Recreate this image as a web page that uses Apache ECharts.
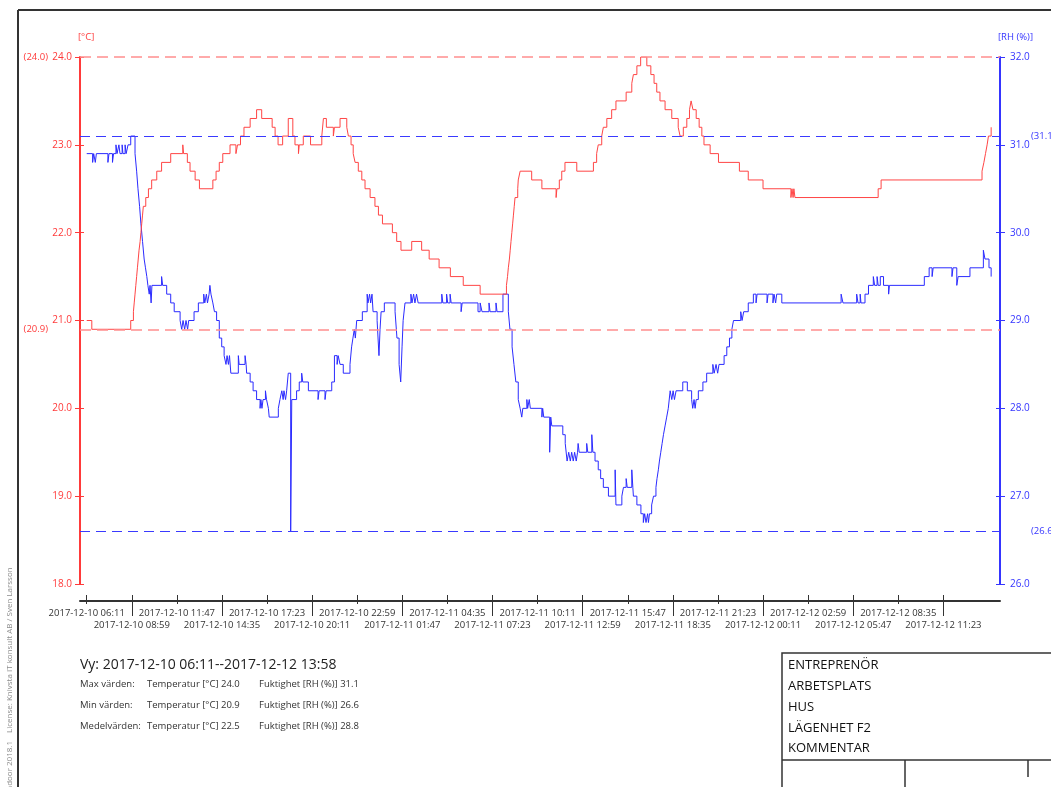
<!DOCTYPE html>
<html lang="sv">

<head>
  <meta charset="utf-8">
  <title>Temperatur och fuktighet</title>
  <style>
    html,
    body {
      margin: 0;
      padding: 0;
      background-color: white;
    }

    .box {
      width: 1051px;
      height: 787px;
    }
  </style>
</head>

<body>
  <script type="text/javascript" src="https://cdn.jsdelivr.net/npm/echarts/dist/echarts.min.js"></script>

  <div class="box"></div>

  <script>
    // tidsintervall
    var START = '2017-12-10 06:11';
    var END = '2017-12-12 13:58';

    // x-axelns etiketter
    var tickLabels = [
      '2017-12-10 06:11', '2017-12-10 08:59', '2017-12-10 11:47', '2017-12-10 14:35', '2017-12-10 17:23',
      '2017-12-10 20:11', '2017-12-10 22:59', '2017-12-11 01:47', '2017-12-11 04:35', '2017-12-11 07:23',
      '2017-12-11 10:11', '2017-12-11 12:59', '2017-12-11 15:47', '2017-12-11 18:35', '2017-12-11 21:23',
      '2017-12-12 00:11', '2017-12-12 02:59', '2017-12-12 05:47', '2017-12-12 08:35', '2017-12-12 11:23'
    ];

    // temperatur [°C]: [minuter från start, värde] (stegvis)
    var tempSteps = [
      [0, 21.0], [19, 20.9], [164, 21.0], [174, 21.1], [177, 21.2], [180, 21.3], [183, 21.4], [186, 21.5], [189, 21.6], [192, 21.7],
      [195, 21.8], [199, 21.9], [202, 22.0], [205, 22.1], [208, 22.2], [211, 22.3], [220, 22.4],
      [230, 22.5], [242, 22.6], [261, 22.7], [279, 22.8], [313, 22.9], [358, 23.0], [361, 22.9], [375, 22.8], [385, 22.7], [404, 22.6],
      [420, 22.5], [470, 22.6], [482, 22.7], [494, 22.8], [507, 22.9], [534, 23.0], [556, 22.9], [562, 23.0], [573, 23.1], [586, 23.2],
      [609, 23.3], [633, 23.4], [652, 23.3], [691, 23.2], [702, 23.1], [713, 23.0], [730, 23.1], [751, 23.3], [768, 23.1], [776, 23.0],
      [789, 22.9], [792, 23.0], [807, 23.1], [834, 23.0], [876, 23.1], [882, 23.3], [893, 23.2], [919, 23.1], [923, 23.2], [944, 23.3],
      [969, 23.2], [975, 23.1], [985, 23.0], [993, 22.9], [1000, 22.8], [1012, 22.7], [1025, 22.6], [1037, 22.5], [1056, 22.4], [1074, 22.3],
      [1087, 22.2], [1102, 22.1], [1139, 22.0], [1155, 21.9], [1171, 21.8], [1211, 21.9], [1248, 21.8], [1276, 21.7], [1313, 21.6], [1355, 21.5],
      [1403, 21.4], [1466, 21.3], [1564, 21.4], [1568, 21.5], [1571, 21.6], [1575, 21.7], [1578, 21.8], [1581, 21.9], [1584, 22.0],
      [1587, 22.1], [1590, 22.2], [1593, 22.3], [1596, 22.4], [1606, 22.5], [1608, 22.6], [1615, 22.7], [1658, 22.6],
      [1696, 22.5], [1749, 22.4], [1752, 22.5], [1761, 22.6], [1770, 22.7], [1782, 22.8], [1826, 22.7], [1888, 22.8], [1900, 22.9], [1906, 23.0],
      [1919, 23.1], [1925, 23.2], [1938, 23.3], [1956, 23.4], [1972, 23.5], [2010, 23.6], [2031, 23.7], [2037, 23.8], [2050, 23.9], [2064, 24.0],
      [2087, 23.9], [2102, 23.8], [2114, 23.7], [2124, 23.6], [2136, 23.5], [2155, 23.4], [2180, 23.3], [2204, 23.2], [2211, 23.1], [2223, 23.2],
      [2236, 23.3], [2246, 23.4], [2252, 23.5], [2259, 23.4], [2271, 23.3], [2282, 23.2], [2292, 23.1], [2300, 23.0], [2323, 22.9], [2354, 22.8],
      [2432, 22.7], [2465, 22.6], [2520, 22.5], [2624, 22.4], [2628, 22.5], [2632, 22.4], [2635, 22.5], [2639, 22.4], [2949, 22.5], [2960, 22.6],
      [3336, 22.7], [3343, 22.8], [3349, 22.9], [3355, 23.0], [3360, 23.1], [3370, 23.2]
    ];

    // fuktighet [RH (%)]: [minuter från start, värde] (stegvis)
    var rhSteps = [
      [0, 30.9], [22, 30.8], [26, 30.9], [32, 30.8], [36, 30.9], [79, 30.8], [83, 30.9], [96, 30.8], [100, 30.9], [109, 31.0],
      [113, 30.9], [120, 31.0], [124, 30.9], [132, 31.0], [135, 30.9], [143, 31.0], [147, 30.9], [154, 31.0], [164, 31.1], [180, 30.9],
      [186, 30.7], [191, 30.5], [197, 30.3], [202, 30.1], [208, 29.9], [214, 29.7], [219, 29.6], [224, 29.5], [228, 29.4], [233, 29.3],
      [236, 29.4], [240, 29.2], [243, 29.4], [279, 29.5], [283, 29.4], [298, 29.3], [313, 29.2], [326, 29.1], [348, 29.0], [354, 28.9],
      [359, 29.0], [365, 28.9], [370, 29.0], [376, 28.9], [380, 29.0], [400, 29.1], [416, 29.2], [436, 29.3], [440, 29.2], [446, 29.3],
      [450, 29.2], [456, 29.3], [459, 29.4], [463, 29.3], [470, 29.2], [476, 29.1], [484, 29.0], [494, 28.8], [503, 28.7], [512, 28.6],
      [519, 28.5], [523, 28.6], [528, 28.5], [532, 28.6], [537, 28.4], [565, 28.6], [568, 28.5], [590, 28.6], [594, 28.5], [596, 28.4],
      [609, 28.3], [620, 28.2], [633, 28.1], [646, 28.0], [649, 28.1], [653, 28.0], [657, 28.1], [666, 28.2], [670, 28.1], [677, 28.0],
      [680, 27.9], [714, 28.0], [720, 28.1], [727, 28.2], [732, 28.1], [735, 28.2], [741, 28.1], [745, 28.2], [751, 28.4], [760, 26.6],
      [764, 28.1], [782, 28.2], [792, 28.3], [801, 28.4], [805, 28.3], [826, 28.2], [862, 28.1], [866, 28.2], [888, 28.1], [892, 28.2],
      [913, 28.3], [923, 28.6], [933, 28.5], [937, 28.6], [944, 28.5], [956, 28.4], [981, 28.5], [987, 28.7], [992, 28.8], [997, 28.9],
      [1001, 28.8], [1006, 29.0], [1027, 29.1], [1045, 29.3], [1048, 29.2], [1054, 29.3], [1058, 29.2], [1063, 29.3], [1067, 29.1], [1082, 29.0],
      [1089, 28.6], [1093, 28.9], [1097, 29.1], [1109, 29.2], [1149, 29.1], [1156, 28.8], [1164, 28.5], [1170, 28.3], [1175, 28.7], [1179, 29.0],
      [1186, 29.2], [1208, 29.3], [1212, 29.2], [1218, 29.3], [1223, 29.2], [1229, 29.3], [1235, 29.2], [1323, 29.3], [1327, 29.2], [1341, 29.3],
      [1345, 29.2], [1354, 29.3], [1358, 29.2], [1395, 29.1], [1399, 29.2], [1458, 29.1], [1466, 29.2], [1473, 29.1], [1499, 29.2], [1503, 29.1],
      [1525, 29.2], [1529, 29.1], [1551, 29.3], [1571, 29.1], [1577, 28.9], [1585, 28.7], [1592, 28.5], [1599, 28.3], [1608, 28.1], [1615, 28.0],
      [1621, 27.9], [1625, 28.0], [1640, 28.1], [1643, 28.0], [1649, 28.1], [1653, 28.0], [1696, 27.9], [1699, 28.0], [1703, 27.9], [1725, 27.5],
      [1729, 27.9], [1733, 27.8], [1774, 27.7], [1783, 27.6], [1790, 27.4], [1796, 27.5], [1802, 27.4], [1807, 27.5], [1813, 27.4], [1818, 27.5],
      [1824, 27.4], [1829, 27.5], [1831, 27.6], [1835, 27.5], [1863, 27.6], [1867, 27.5], [1882, 27.7], [1886, 27.5], [1894, 27.4], [1906, 27.3],
      [1915, 27.2], [1925, 27.1], [1944, 27.0], [1969, 27.3], [1972, 26.9], [1994, 27.0], [2000, 27.1], [2010, 27.2], [2014, 27.1], [2031, 27.3],
      [2035, 27.1], [2037, 27.0], [2050, 26.9], [2065, 26.8], [2074, 26.7], [2079, 26.8], [2084, 26.7], [2090, 26.8], [2093, 26.7], [2097, 26.8],
      [2105, 26.9], [2112, 27.0], [2121, 27.1], [2125, 27.2], [2130, 27.3], [2134, 27.4], [2139, 27.5], [2144, 27.6], [2149, 27.7], [2155, 27.8],
      [2161, 27.9], [2167, 28.0], [2174, 28.2], [2180, 28.1], [2185, 28.2], [2190, 28.1], [2196, 28.2], [2221, 28.3], [2238, 28.2], [2254, 28.1],
      [2258, 28.0], [2263, 28.1], [2267, 28.0], [2271, 28.1], [2279, 28.2], [2296, 28.3], [2310, 28.4], [2333, 28.5], [2338, 28.4], [2345, 28.5],
      [2351, 28.4], [2356, 28.5], [2375, 28.6], [2385, 28.7], [2395, 28.8], [2404, 28.9], [2410, 29.0], [2437, 29.1], [2442, 29.0], [2448, 29.1],
      [2465, 29.2], [2484, 29.3], [2494, 29.2], [2498, 29.3], [2535, 29.2], [2539, 29.3], [2557, 29.2], [2561, 29.3], [2567, 29.2], [2571, 29.3],
      [2590, 29.2], [2811, 29.3], [2818, 29.2], [2869, 29.3], [2874, 29.2], [2882, 29.3], [2885, 29.2], [2900, 29.3], [2913, 29.4], [2931, 29.5],
      [2936, 29.4], [2945, 29.5], [2949, 29.4], [2957, 29.5], [2969, 29.4], [2988, 29.3], [2991, 29.4], [3121, 29.5], [3139, 29.6], [3150, 29.5],
      [3154, 29.6], [3224, 29.5], [3228, 29.6], [3242, 29.4], [3247, 29.5], [3291, 29.6], [3341, 29.8], [3347, 29.7], [3362, 29.6], [3370, 29.5]
    ];

    // sammanställning under diagrammet
    var statNames = ['Max värden:', 'Min värden:', 'Medelvärden:'];
    var tempStats = [24.0, 20.9, 22.5];
    var rhStats = [31.1, 26.6, 28.8];

    // rubriker i rutan nere till höger
    var boxRows = ['ENTREPRENÖR', 'ARBETSPLATS', 'HUS', 'LÄGENHET F2', 'KOMMENTAR'];

    var RED = '#ff3a3a';
    var BLUE = '#3535ff';

    // minuter från START
    function toMin(s) {
      var p = s.split(/[- :]/).map(Number);
      var q = START.split(/[- :]/).map(Number);
      return (Date.UTC(p[0], p[1] - 1, p[2], p[3], p[4]) - Date.UTC(q[0], q[1] - 1, q[2], q[3], q[4])) / 60000;
    }

    var tickMins = tickLabels.map(toMin);
    var oddTicks = tickMins.filter(function (v, i) { return i % 2 === 1; });
    var evenTicks = tickMins.filter(function (v, i) { return i % 2 === 0; });
    var X_MIN = -25;
    var X_MAX = 3403;

    var tempVals = tempSteps.map(function (d) { return d[1]; });
    var rhVals = rhSteps.map(function (d) { return d[1]; });

    var box = document.querySelector('.box');
    var myChart = echarts.init(box);

    function tickText(v) {
      var i = tickMins.findIndex(function (m) { return Math.abs(m - v) < 0.5; });
      return i < 0 ? '' : tickLabels[i];
    }

    // x-axlar: en per etikettrad, plus korta tickmarkeringar
    function xAxisRow(ticks, len, inside, labels, margin, showLine) {
      return {
        type: 'value', min: X_MIN, max: X_MAX, position: 'bottom', offset: 17,
        axisLine: { show: showLine, onZero: false, lineStyle: { color: '#333', width: 2 } },
        axisTick: { show: true, inside: inside, length: len, customValues: ticks, lineStyle: { color: '#333', width: 1 } },
        axisLabel: labels ? {
          customValues: labels, showMinLabel: true, showMaxLabel: true,
          color: '#333', fontSize: 9.5, margin: margin, formatter: tickText
        } : { show: false },
        splitLine: { show: false }
      };
    }

    function yTickAxis(pos, min, max, color) {
      return {
        type: 'value', min: min, max: max, interval: 1, position: pos,
        axisLine: { show: false, onZero: false },
        axisTick: { show: true, inside: true, length: 4, lineStyle: { color: color } },
        axisLabel: { show: false },
        splitLine: { show: false }
      };
    }

    var graphics = [
      // ram
      { type: 'line', shape: { x1: 18, y1: 10, x2: 1051, y2: 10 }, style: { stroke: '#333', lineWidth: 2 } },
      { type: 'line', shape: { x1: 18, y1: 10, x2: 18, y2: 787 }, style: { stroke: '#333', lineWidth: 2 } },
      {
        type: 'text', x: 10, y: 733, rotation: Math.PI / 2,
        style: { text: 'License: Knivsta IT konsult AB / Sven Larsson', fill: '#8c8c8c', font: '8px "Open Sans"', align: 'left', verticalAlign: 'middle' }
      },
      {
        type: 'text', x: 10, y: 793, rotation: Math.PI / 2,
        style: { text: 'Indoor 2018.1', fill: '#8c8c8c', font: '8px "Open Sans"', align: 'left', verticalAlign: 'middle' }
      },
      {
        type: 'text', x: 80, y: 665,
        style: { text: 'Vy: ' + START + '--' + END, fill: '#222', font: '14px "Open Sans"', align: 'left', verticalAlign: 'middle' }
      },
      // ruta
      { type: 'rect', shape: { x: 782, y: 653, width: 320, height: 200 }, style: { fill: 'none', stroke: '#333', lineWidth: 1.5 } },
      { type: 'line', shape: { x1: 782, y1: 760, x2: 1051, y2: 760 }, style: { stroke: '#333', lineWidth: 1.5 } },
      { type: 'line', shape: { x1: 905, y1: 760, x2: 905, y2: 787 }, style: { stroke: '#333', lineWidth: 1.5 } },
      { type: 'line', shape: { x1: 1028, y1: 760, x2: 1028, y2: 777 }, style: { stroke: '#333', lineWidth: 1.5 } }
    ];

    var statY = [684, 705, 726];
    statNames.forEach(function (name, i) {
      var st = { fill: '#333', font: '9.5px "Open Sans"', align: 'left', verticalAlign: 'middle' };
      graphics.push({ type: 'text', x: 80, y: statY[i], style: Object.assign({ text: name }, st) });
      graphics.push({ type: 'text', x: 147, y: statY[i], style: Object.assign({ text: 'Temperatur [°C] ' + tempStats[i].toFixed(1) }, st) });
      graphics.push({ type: 'text', x: 259, y: statY[i], style: Object.assign({ text: 'Fuktighet [RH (%)] ' + rhStats[i].toFixed(1) }, st) });
    });

    var boxY = [665, 686, 707, 728, 748];
    boxRows.forEach(function (t, i) {
      graphics.push({
        type: 'text', x: 788, y: boxY[i],
        style: { text: t, fill: '#111', font: '13px "Open Sans"', align: 'left', verticalAlign: 'middle' }
      });
    });

    var option = {
      animation: false,
      backgroundColor: '#fff',
      textStyle: { fontFamily: 'Open Sans' },
      grid: { left: 80, right: 51, top: 57, bottom: 203 },
      xAxis: [
        xAxisRow(tickMins, 6, true, evenTicks, 7, true),
        xAxisRow(oddTicks, 15, false, oddTicks, 19, false),
        xAxisRow(evenTicks, 3, false, null, 0, false)
      ],
      yAxis: [
        {
          type: 'value', min: 18, max: 24, interval: 1, position: 'left',
          name: '[°C]', nameLocation: 'end', nameGap: 15,
          nameTextStyle: { color: RED, fontSize: 9.5, align: 'left', padding: [0, 0, 0, -2] },
          axisLine: { show: true, onZero: false, lineStyle: { color: RED, width: 2 } },
          axisTick: { show: true, length: 5, lineStyle: { color: RED } },
          axisLabel: { color: RED, fontSize: 10, margin: 8, formatter: function (v) { return v.toFixed(1); } },
          splitLine: { show: false }
        },
        {
          type: 'value', min: 26, max: 32, interval: 1, position: 'right',
          name: '[RH (%)]', nameLocation: 'end', nameGap: 15,
          nameTextStyle: { color: BLUE, fontSize: 9.5, align: 'left', padding: [0, 0, 0, -2] },
          axisLine: { show: true, onZero: false, lineStyle: { color: BLUE, width: 2 } },
          axisTick: { show: true, length: 5, lineStyle: { color: BLUE } },
          axisLabel: { color: BLUE, fontSize: 10, margin: 10, formatter: function (v) { return v.toFixed(1); } },
          splitLine: { show: false }
        },
        yTickAxis('left', 18, 24, RED),
        yTickAxis('right', 26, 32, BLUE)
      ],
      graphic: graphics,
      series: [
        {
          name: 'Temperatur',
          type: 'line',
          xAxisIndex: 0,
          yAxisIndex: 0,
          step: 'end',
          showSymbol: false,
          symbol: 'none',
          data: tempSteps,
          lineStyle: { color: '#ff4545', width: 1 },
          z: 3,
          markLine: {
            silent: true,
            symbol: ['none', 'none'],
            lineStyle: { color: '#ff8f8f', type: [11, 6], width: 1.5 },
            label: {
              position: 'start', distance: 32, color: RED, fontSize: 9.5,
              formatter: function (p) { return '(' + p.value.toFixed(1) + ')'; }
            },
            data: [{ yAxis: Math.max.apply(null, tempVals) }, { yAxis: Math.min.apply(null, tempVals) }]
          }
        },
        {
          name: 'Fuktighet',
          type: 'line',
          xAxisIndex: 0,
          yAxisIndex: 1,
          step: 'end',
          showSymbol: false,
          symbol: 'none',
          data: rhSteps,
          lineStyle: { color: '#2b2bff', width: 1 },
          z: 2,
          markLine: {
            silent: true,
            symbol: ['none', 'none'],
            lineStyle: { color: '#3a3aff', type: [10, 6], width: 1 },
            label: {
              position: 'end', distance: 31, color: BLUE, fontSize: 9.5,
              formatter: function (p) { return '(' + p.value.toFixed(1) + ')'; }
            },
            data: [{ yAxis: Math.max.apply(null, rhVals) }, { yAxis: Math.min.apply(null, rhVals) }]
          }
        }
      ]
    };

    myChart.setOption(option);
  </script>

</body>

</html>
